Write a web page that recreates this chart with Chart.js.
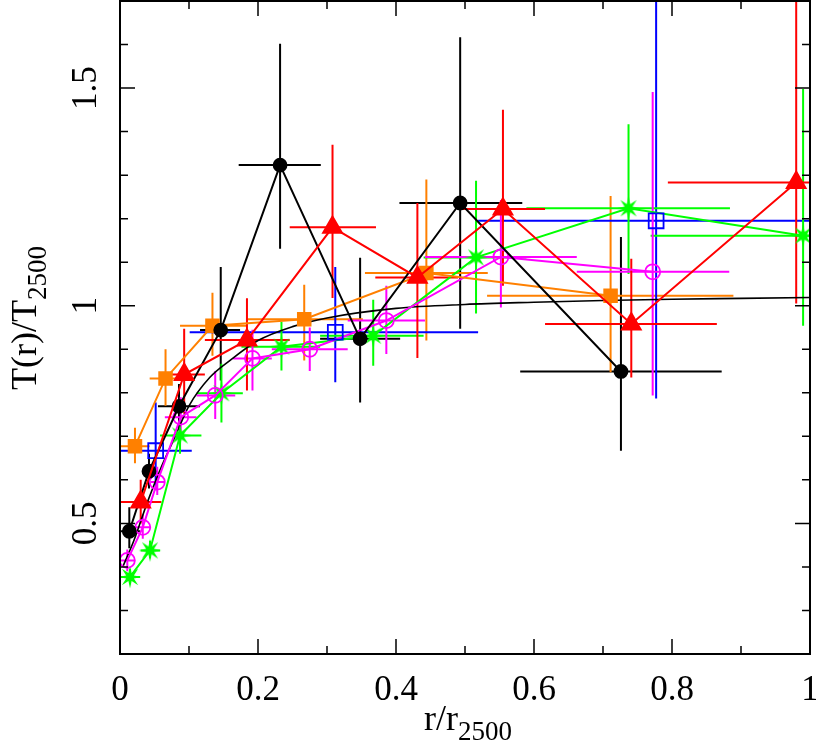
<!DOCTYPE html>
<html>
<head>
<meta charset="utf-8">
<script src="https://cdn.jsdelivr.net/npm/chart.js@4.4.1/dist/chart.umd.min.js"></script>
<style>
html,body{margin:0;padding:0;background:#fff;}
#wrap{width:816px;height:748px;position:relative;}
</style>
</head>
<body>
<div id="wrap"><canvas id="c" width="816" height="748"></canvas></div>
<script>
// ---------- data ----------
const xTickLabels = ["0","0.2","0.4","0.6","0.8","1"];
const xTickValues = [0,0.2,0.4,0.6,0.8,1];
const yTickLabels = ["0.5","1","1.5"];
const yTickValues = [0.5,1,1.5];

const blackX   = [0.0135,0.042,0.0855,0.146,0.232,0.348,0.493,0.726];
const blackY   = [0.482,0.62,0.769,0.944,1.323,0.924,1.236,0.849];
const blackXlo = [0.0,0.033,0.055,0.116,0.172,0.29,0.405,0.58];
const blackXhi = [0.029,0.052,0.116,0.174,0.291,0.406,0.583,0.872];
const blackYlo = [0.443,0.58,0.72,0.828,1.131,0.778,0.947,0.667];
const blackYhi = [0.537,0.66,0.82,1.089,1.602,1.11,1.617,1.158];

const redX   = [0.030,0.093,0.184,0.308,0.431,0.555,0.741,0.980];
const redY   = [0.549,0.842,0.921,1.18,1.065,1.222,0.958,1.283];
const redXlo = [0.0,0.062,0.123,0.246,0.37,0.493,0.616,0.794];
const redXhi = [0.06,0.123,0.246,0.371,0.49,0.616,0.865,1.0];
const redYlo = [0.50,0.752,0.805,1.018,0.88,1.046,0.835,1.005];
const redYhi = [0.60,0.947,1.017,1.37,1.236,1.45,1.108,1.75];

const orangeX   = [0.0217,0.066,0.134,0.267,0.444,0.711];
const orangeY   = [0.677,0.833,0.954,0.969,1.075,1.023];
const orangeXlo = [0.0,0.043,0.087,0.184,0.355,0.532];
const orangeXhi = [0.043,0.094,0.184,0.352,0.533,0.889];
const orangeYlo = [0.638,0.77,0.885,0.874,0.92,0.847];
const orangeYhi = [0.72,0.9,1.03,1.048,1.29,1.252];

const blueX   = [0.0517,0.312,0.777];
const blueY   = [0.667,0.939,1.195];
const blueXlo = [0.0,0.101,0.519];
const blueXhi = [0.104,0.519,1.0];
const blueYlo = [0.576,0.824,0.787];
const blueYhi = [0.778,1.089,1.75];

const greenX   = [0.0145,0.0435,0.087,0.147,0.234,0.367,0.516,0.737,0.990];
const greenY   = [0.377,0.438,0.702,0.799,0.906,0.931,1.111,1.224,1.161];
const greenXlo = [0.0,0.03,0.058,0.111,0.176,0.29,0.44,0.589,0.769];
const greenXhi = [0.029,0.058,0.118,0.178,0.29,0.44,0.589,0.884,1.0];
const greenYlo = [0.36,0.42,0.66,0.732,0.851,0.862,0.982,1.073,0.954];
const greenYhi = [0.395,0.46,0.74,0.867,0.963,1.014,1.287,1.417,1.498];

const magentaX   = [0.0106,0.033,0.054,0.088,0.138,0.192,0.275,0.386,0.552,0.772];
const magentaY   = [0.415,0.491,0.595,0.744,0.794,0.879,0.9,0.966,1.112,1.078];
const magentaXlo = [0.0,0.022,0.044,0.065,0.111,0.164,0.22,0.33,0.442,0.662];
const magentaXhi = [0.022,0.044,0.064,0.111,0.167,0.22,0.33,0.442,0.662,0.883];
const magentaYlo = [0.39,0.465,0.565,0.70,0.74,0.805,0.85,0.889,0.996,0.794];
const magentaYhi = [0.44,0.52,0.63,0.79,0.85,0.945,0.95,1.046,1.243,1.491];

const modelX = [0.004,0.02,0.04,0.06,0.08,0.1,0.13,0.16,0.2,0.25,0.3,0.4,0.5,0.6,0.7,0.8,0.9,1.0];
const modelY = [0.40,0.46,0.55,0.63,0.70,0.77,0.835,0.875,0.92,0.952,0.972,0.994,1.003,1.008,1.012,1.015,1.017,1.019];

// ---------- helpers ----------
function pts(xs, ys){ return xs.map((x,i)=>({x:x, y:ys[i]})); }

function makeStar(color){
  const c = document.createElement('canvas');
  c.width = 24; c.height = 24;
  const g = c.getContext('2d');
  const n = 8, ro = 11.5, ri = 4.2, cx = 12, cy = 12;
  g.beginPath();
  for (let k=0;k<2*n;k++){
    const r = (k%2===0)?ro:ri;
    const a = -Math.PI/2 + k*Math.PI/n;
    const px = cx + r*Math.cos(a), py = cy + r*Math.sin(a);
    if(k===0) g.moveTo(px,py); else g.lineTo(px,py);
  }
  g.closePath();
  g.fillStyle = color; g.fill();
  return c;
}

const FONT = '"Liberation Serif","DejaVu Serif",serif';

const errorBars = [
  {color:'#000000', x:blackX, y:blackY, xlo:blackXlo, xhi:blackXhi, ylo:blackYlo, yhi:blackYhi},
  {color:'#ff8000', x:orangeX, y:orangeY, xlo:orangeXlo, xhi:orangeXhi, ylo:orangeYlo, yhi:orangeYhi},
  {color:'#0000ff', x:blueX, y:blueY, xlo:blueXlo, xhi:blueXhi, ylo:blueYlo, yhi:blueYhi},
  {color:'#00ff00', x:greenX, y:greenY, xlo:greenXlo, xhi:greenXhi, ylo:greenYlo, yhi:greenYhi},
  {color:'#ff00ff', x:magentaX, y:magentaY, xlo:magentaXlo, xhi:magentaXhi, ylo:magentaYlo, yhi:magentaYhi},
  {color:'#ff0000', x:redX, y:redY, xlo:redXlo, xhi:redXhi, ylo:redYlo, yhi:redYhi}
];

const errorBarPlugin = {
  id:'errbars',
  beforeDatasetsDraw(chart){
    const {ctx, chartArea:a, scales:{x, y}} = chart;
    ctx.save();
    ctx.beginPath(); ctx.rect(a.left, a.top, a.right-a.left, a.bottom-a.top); ctx.clip();
    ctx.lineWidth = 2;
    errorBars.forEach(s=>{
      ctx.strokeStyle = s.color;
      ctx.beginPath();
      s.x.forEach((xv,i)=>{
        const px = x.getPixelForValue(xv), py = y.getPixelForValue(s.y[i]);
        ctx.moveTo(x.getPixelForValue(s.xlo[i]), py);
        ctx.lineTo(x.getPixelForValue(s.xhi[i]), py);
        ctx.moveTo(px, y.getPixelForValue(s.ylo[i]));
        ctx.lineTo(px, y.getPixelForValue(s.yhi[i]));
      });
      ctx.stroke();
    });
    ctx.restore();
  }
};

function subText(ctx, main, sub, size, subSize, subDrop){
  ctx.font = size+'px '+FONT;
  const w1 = ctx.measureText(main).width;
  ctx.font = subSize+'px '+FONT;
  const w2 = ctx.measureText(sub).width;
  const total = w1 + w2;
  ctx.textAlign = 'left'; ctx.textBaseline = 'alphabetic';
  ctx.font = size+'px '+FONT;
  ctx.fillText(main, -total/2, 0);
  ctx.font = subSize+'px '+FONT;
  ctx.fillText(sub, -total/2 + w1, subDrop);
}

const framePlugin = {
  id:'frame',
  afterDraw(chart){
    const {ctx, chartArea:a, scales:{x, y}} = chart;
    ctx.save();
    ctx.strokeStyle = '#000'; ctx.lineWidth = 2;
    ctx.strokeRect(a.left, a.top, a.right-a.left, a.bottom-a.top);
    ctx.lineWidth = 1.5;
    ctx.beginPath();
    for (let k=1;k<10;k++){
      const v = k/10, px = x.getPixelForValue(v);
      const len = (k%2===0)?15:8;
      ctx.moveTo(px, a.bottom); ctx.lineTo(px, a.bottom-len);
      ctx.moveTo(px, a.top); ctx.lineTo(px, a.top+len);
    }
    for (let k=3;k<=16;k++){
      const v = k/10, py = y.getPixelForValue(v);
      const len = (k%5===0)?15:8;
      ctx.moveTo(a.left, py); ctx.lineTo(a.left+len, py);
      ctx.moveTo(a.right, py); ctx.lineTo(a.right-len, py);
    }
    ctx.stroke();
    ctx.fillStyle = '#000';
    ctx.font = '35px '+FONT;
    ctx.textAlign = 'center'; ctx.textBaseline = 'middle';
    xTickValues.forEach((v,i)=>{
      ctx.fillText(xTickLabels[i], x.getPixelForValue(v), a.bottom+37);
    });
    yTickValues.forEach((v,i)=>{
      ctx.save();
      ctx.translate(a.left-33, y.getPixelForValue(v));
      ctx.rotate(-Math.PI/2);
      ctx.fillText(yTickLabels[i], 0, 0);
      ctx.restore();
    });
    ctx.save();
    ctx.translate(468, a.bottom+76);
    subText(ctx, 'r/r', '2500', 36, 27, 10);
    ctx.restore();
    ctx.save();
    ctx.translate(36, 318);
    ctx.rotate(-Math.PI/2);
    subText(ctx, 'T(r)/T', '2500', 36, 27, 10);
    ctx.restore();
    ctx.restore();
  }
};

const ds = (label, xs, ys, color, style, radius, filled, showLine) => ({
  label, data: pts(xs, ys),
  borderColor: color,
  backgroundColor: filled ? color : 'rgba(0,0,0,0)',
  pointBackgroundColor: filled ? color : 'rgba(0,0,0,0)',
  pointBorderColor: color,
  pointStyle: style, pointRadius: radius, pointBorderWidth: 1.8,
  pointHoverRadius: radius,
  showLine: showLine, borderWidth: 2, tension: 0, fill:false
});

const datasets = [
  ds('red', redX, redY, '#ff0000', 'triangle', 11, true, true),
  ds('black', blackX, blackY, '#000000', 'circle', 6.5, true, true),
  ds('blue', blueX, blueY, '#0000ff', 'rect', 10.5, false, false),
  ds('orange', orangeX, orangeY, '#ff8000', 'rect', 9, true, true),
  ds('magenta', magentaX, magentaY, '#ff00ff', 'circle', 7.5, false, true),
  ds('green', greenX, greenY, '#00ff00', makeStar('#00ff00'), 11, true, true),
  {label:'model', data: pts(modelX, modelY), borderColor:'#000', borderWidth:1.6,
   pointRadius:0, showLine:true, fill:false, cubicInterpolationMode:'monotone'}
];

new Chart(document.getElementById('c'), {
  type:'scatter',
  data:{datasets},
  options:{
    responsive:false, animation:false, devicePixelRatio:1,
    layout:{autoPadding:false, padding:{left:120, right:6, top:1, bottom:94}},
    plugins:{legend:{display:false}, tooltip:{enabled:false}},
    scales:{
      x:{type:'linear', min:0, max:1, display:false},
      y:{type:'linear', min:0.2, max:1.7, display:false}
    }
  },
  plugins:[errorBarPlugin, framePlugin]
});
</script>
</body>
</html>
